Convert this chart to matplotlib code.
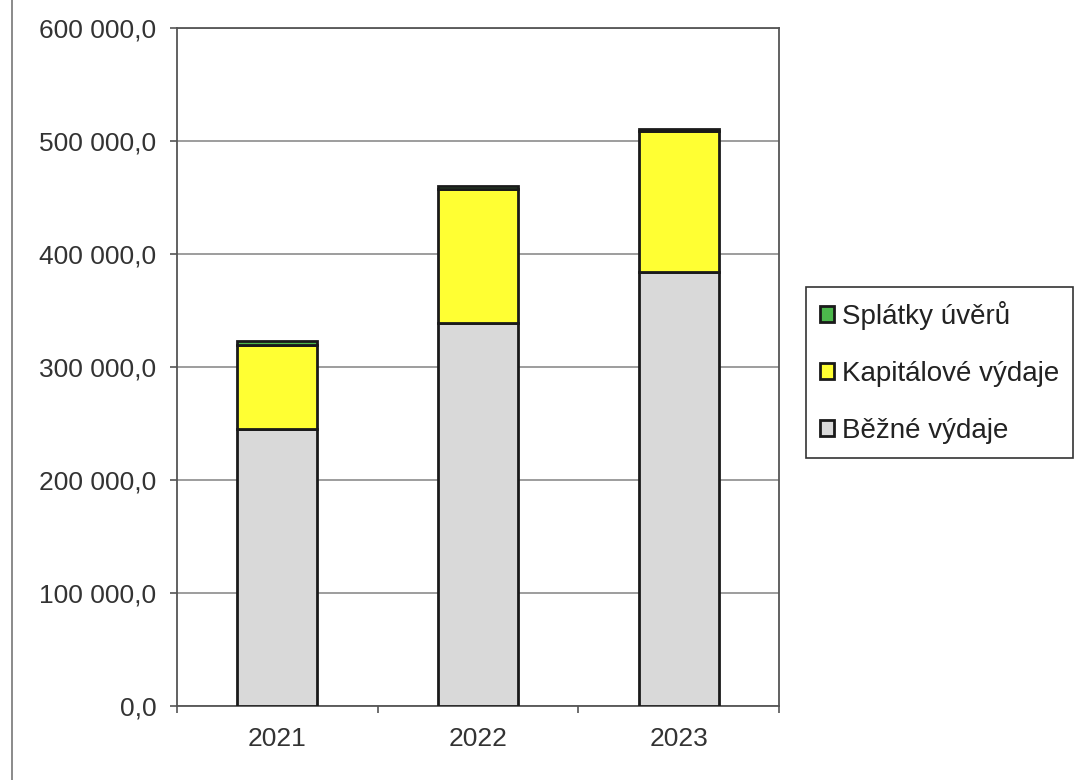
import matplotlib
matplotlib.use('Agg')
import matplotlib.pyplot as plt
from matplotlib.ticker import FuncFormatter, MultipleLocator, FixedLocator
from matplotlib.lines import Line2D

plt.rcParams['font.family'] = ['Liberation Sans', 'DejaVu Sans']

years = ['2021', '2022', '2023']
bezne_vydaje = [245000, 339000, 384000]
kapitalove_vydaje = [74500, 118500, 124800]
splatky_uveru = [3500, 2700, 1800]

labels = ['Běžné výdaje', 'Kapitálové výdaje', 'Splátky úvěrů']
colors = ['#d9d9d9', '#ffff33', '#4cb84c']


def fmt(v, pos):
    s = '{:,.1f}'.format(v)
    return s.replace(',', ' ').replace('.', ',')


fig = plt.figure(figsize=(10.9, 7.8), dpi=100)
ax = fig.add_axes([0.1624, 0.0949, 0.5523, 0.8691])

x = list(range(len(years)))
bottom2 = [a + b for a, b in zip(bezne_vydaje, kapitalove_vydaje)]
kw = dict(width=0.4, edgecolor='#1a1a1a', linewidth=2, zorder=3)
b1 = ax.bar(x, bezne_vydaje, color=colors[0], label=labels[0], **kw)
b2 = ax.bar(x, kapitalove_vydaje, bottom=bezne_vydaje, color=colors[1], label=labels[1], **kw)
b3 = ax.bar(x, splatky_uveru, bottom=bottom2, color=colors[2], label=labels[2], **kw)

ax.set_xlim(-0.5, 2.5)
ax.set_ylim(0, 600000)
ax.yaxis.set_major_locator(MultipleLocator(100000))
ax.yaxis.set_major_formatter(FuncFormatter(fmt))
ax.yaxis.grid(True, color='#8c8c8c', linewidth=1.2, zorder=0)
ax.set_axisbelow(True)

ax.set_xticks(x)
ax.set_xticklabels(years)
ax.xaxis.set_minor_locator(FixedLocator([-0.5, 0.5, 1.5, 2.5]))
ax.tick_params(axis='x', which='major', length=0, pad=15, labelsize=19, colors='#333333')
ax.tick_params(axis='x', which='minor', length=5, width=1.2, color='#555555', direction='out')
ax.tick_params(axis='y', length=5, width=1.2, color='#555555', pad=10, labelsize=19, labelcolor='#333333')

for side in ['left', 'bottom', 'right', 'top']:
    ax.spines[side].set_color('#555555')
    ax.spines[side].set_linewidth(1.3)

handles = [b3, b2, b1]
leg = fig.legend(handles, [labels[2], labels[1], labels[0]],
                 loc='upper left', bbox_to_anchor=(0.7394, 0.632),
                 fontsize=20, frameon=True, fancybox=False, framealpha=1,
                 edgecolor='#333333', handlelength=0.5, handleheight=0.5,
                 handletextpad=0.3, labelspacing=1.12, borderpad=0.5,
                 borderaxespad=0)
leg.get_frame().set_linewidth(1.2)
for t in leg.get_texts():
    t.set_color('#222222')

fig.add_artist(Line2D([0.011, 0.011], [0, 1], transform=fig.transFigure,
                      color='#777777', linewidth=1.2))

fig.savefig('out.png', dpi=100)
